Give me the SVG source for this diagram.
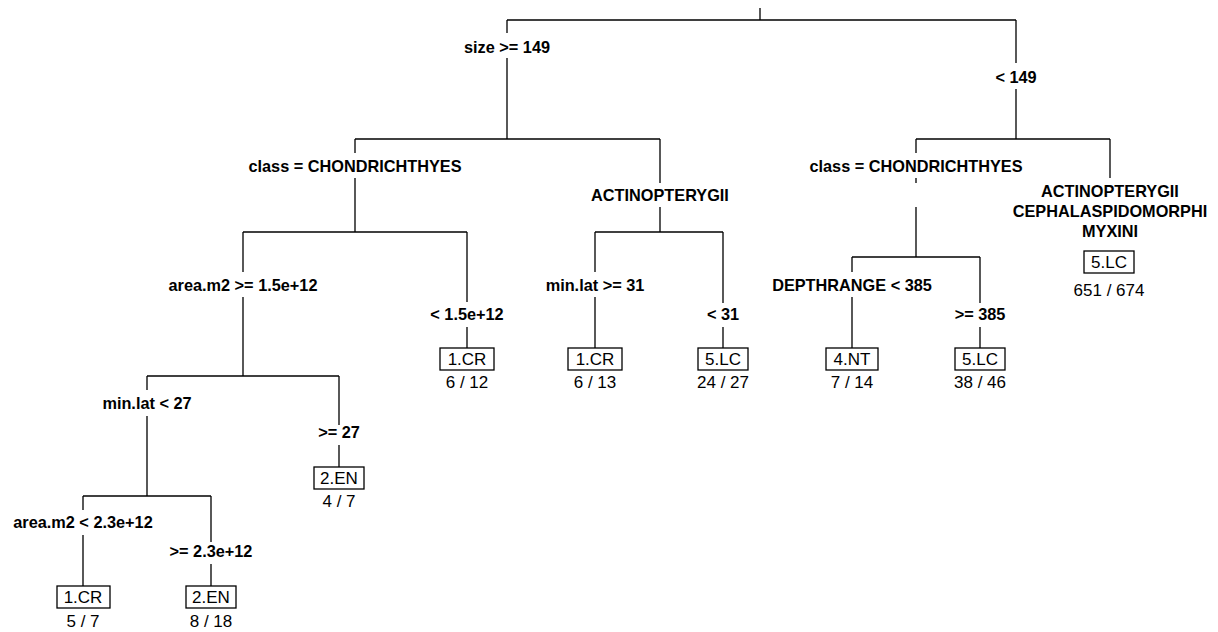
<svg xmlns="http://www.w3.org/2000/svg" width="1218" height="632" viewBox="0 0 1218 632">
<style>
.c{stroke:#000;stroke-width:1.3;fill:none}
.b{font-family:"Liberation Sans",Arial,sans-serif;font-size:16.3px;font-weight:bold;text-anchor:middle;fill:#000}
.r{font-family:"Liberation Sans",Arial,sans-serif;font-size:17px;text-anchor:middle;fill:#000}
.box{fill:#fff;stroke:#000;stroke-width:1.3}
</style>
<rect width="1218" height="632" fill="#fff"/>
<g id="connectors">
<path class="c" d="M760 8V20M507 20H1016"/>
<path class="c" d="M507 20V33M507 58V139"/>
<path class="c" d="M1016 20V63M1016 89V139"/>
<path class="c" d="M355 139H660"/>
<path class="c" d="M355 139V153M355 178V232"/>
<path class="c" d="M660 139V183M660 207V232"/>
<path class="c" d="M243 232H467"/>
<path class="c" d="M243 232V272M243 297V376"/>
<path class="c" d="M467 232V302M467 327V348"/>
<path class="c" d="M595 232H723"/>
<path class="c" d="M595 232V272M595 297V348"/>
<path class="c" d="M723 232V303M723 327V348"/>
<path class="c" d="M916 139H1110"/>
<path class="c" d="M916 139V153M916 178V183M916 207V257"/>
<path class="c" d="M1110 139V178"/>
<path class="c" d="M852 257H980"/>
<path class="c" d="M852 257V272M852 297V348"/>
<path class="c" d="M980 257V303M980 327V348"/>
<path class="c" d="M147 376H339"/>
<path class="c" d="M147 376V390M147 416V496"/>
<path class="c" d="M339 376V425M339 445V467"/>
<path class="c" d="M83 496H211"/>
<path class="c" d="M83 496V510M83 535V586"/>
<path class="c" d="M211 496V542M211 564V586"/>
</g>
<g id="n-root"><text class="b" x="507" y="53">size &gt;= 149</text><text class="b" x="1016" y="83">&lt; 149</text></g>
<g id="n-size-ge"><text class="b" x="355" y="172">class = CHONDRICHTHYES</text><text class="b" x="660" y="201">ACTINOPTERYGII</text></g>
<g id="n-size-lt"><text class="b" x="916" y="172">class = CHONDRICHTHYES</text></g>
<g id="n-chond-left"><text class="b" x="243" y="291">area.m2 &gt;= 1.5e+12</text><text class="b" x="467" y="320">&lt; 1.5e+12</text></g>
<g id="n-actino-left"><text class="b" x="595" y="291">min.lat &gt;= 31</text><text class="b" x="723" y="320">&lt; 31</text></g>
<g id="n-chond-right"><text class="b" x="852" y="291">DEPTHRANGE &lt; 385</text><text class="b" x="980" y="320">&gt;= 385</text></g>
<g id="n-area-ge"><text class="b" x="147" y="409">min.lat &lt; 27</text><text class="b" x="339" y="438">&gt;= 27</text></g>
<g id="n-minlat-lt"><text class="b" x="83" y="528">area.m2 &lt; 2.3e+12</text><text class="b" x="211" y="557">&gt;= 2.3e+12</text></g>
<g id="leaf-rest"><text class="b" x="1110" y="197">ACTINOPTERYGII</text><text class="b" x="1110" y="217">CEPHALASPIDOMORPHI</text><text class="b" x="1110" y="237">MYXINI</text><rect class="box" x="1084" y="251" width="50" height="22"/><text class="r" x="1109" y="268">5.LC</text><text class="r" x="1109" y="296">651 / 674</text></g>
<g id="leaf-a"><rect class="box" x="440" y="348" width="54" height="22"/><text class="r" x="467" y="365">1.CR</text><text class="r" x="467" y="388">6 / 12</text></g>
<g id="leaf-b"><rect class="box" x="568" y="348" width="54" height="22"/><text class="r" x="595" y="365">1.CR</text><text class="r" x="595" y="388">6 / 13</text></g>
<g id="leaf-c"><rect class="box" x="698" y="348" width="50" height="22"/><text class="r" x="723" y="365">5.LC</text><text class="r" x="723" y="388">24 / 27</text></g>
<g id="leaf-d"><rect class="box" x="826" y="348" width="52" height="22"/><text class="r" x="852" y="365">4.NT</text><text class="r" x="852" y="388">7 / 14</text></g>
<g id="leaf-e"><rect class="box" x="955" y="348" width="50" height="22"/><text class="r" x="980" y="365">5.LC</text><text class="r" x="980" y="388">38 / 46</text></g>
<g id="leaf-f"><rect class="box" x="314" y="467" width="50" height="22"/><text class="r" x="339" y="484">2.EN</text><text class="r" x="339" y="507">4 / 7</text></g>
<g id="leaf-g"><rect class="box" x="57" y="586" width="53" height="22"/><text class="r" x="83" y="603">1.CR</text><text class="r" x="83" y="627">5 / 7</text></g>
<g id="leaf-h"><rect class="box" x="186" y="586" width="50" height="22"/><text class="r" x="211" y="603">2.EN</text><text class="r" x="211" y="627">8 / 18</text></g>
</svg>
